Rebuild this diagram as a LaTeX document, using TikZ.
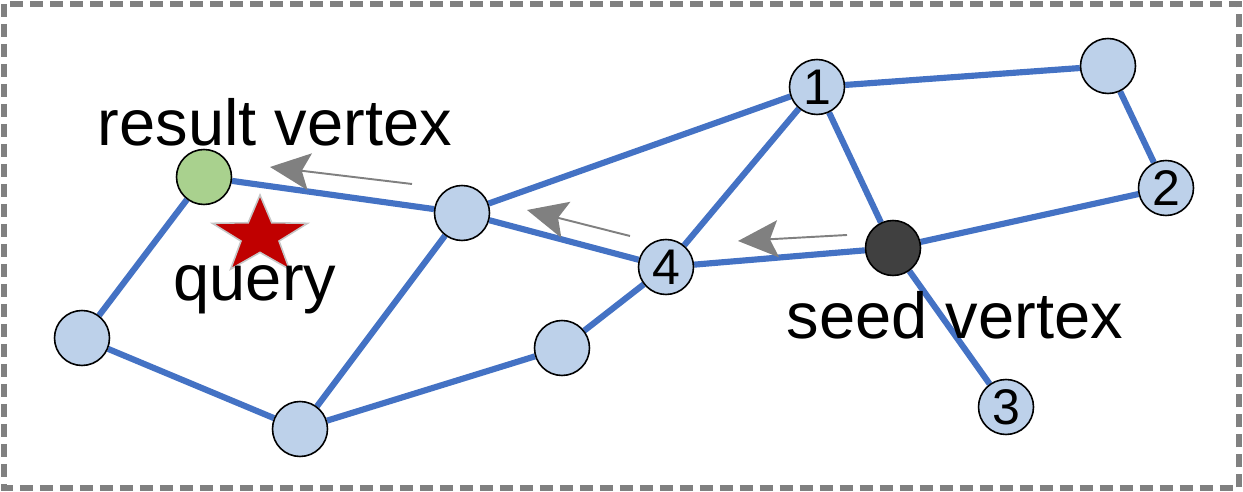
\documentclass[tikz,border=0pt]{standalone}
\usepackage{fontspec}
\setmainfont{Liberation Sans}
\usetikzlibrary{arrows.meta,shapes.geometric,backgrounds}
\definecolor{edgeblue}{HTML}{4472C4}
\definecolor{vblue}{HTML}{BDD1EA}
\definecolor{vgreen}{HTML}{A9D18E}
\definecolor{vdark}{HTML}{404040}
\definecolor{qred}{HTML}{C00000}
\definecolor{fgray}{HTML}{808080}

\begin{document}
\begin{tikzpicture}[x=0.02cm, y=-0.02cm,
  vtx/.style={circle, draw=black, line width=0.9pt, fill=vblue, minimum size=1.1cm, inner sep=0pt, font=\fontsize{28.5}{30}\selectfont},
  edge/.style={edgeblue, line width=3.5pt},
  walk/.style={fgray, line width=1.1pt, -{Stealth[length=0.8cm, width=0.74cm, inset=0.16cm]}},
  lbl/.style={font=\fontsize{37}{40}\selectfont, inner sep=0pt}]

\useasboundingbox (0,0) rectangle (1243,492);
% frame
\draw[fgray, line width=3pt, dash pattern=on 0.26cm off 0.14cm] (4,4) rectangle (1239,488);

% vertices
\node[vtx] (V1) at (817,87) {1};
\node[vtx] (VTR) at (1108,66) {};
\node[vtx] (V2) at (1166,188) {2};
\node[vtx, fill=vdark] (Seed) at (893,248) {};
\node[vtx] (V3) at (1006,407) {3};
\node[vtx] (V4) at (666,267) {4};
\node[vtx] (VMid) at (462,213) {};
\node[vtx, fill=vgreen] (Res) at (204,177) {};
\node[vtx] (VLeft) at (82,338) {};
\node[vtx] (VBot) at (300,429) {};
\node[vtx] (VLow) at (562,348) {};

% edges
\begin{scope}[on background layer]
\draw[edge] (Res) -- (VMid);
\draw[edge] (Res) -- (VLeft);
\draw[edge] (VLeft) -- (VBot);
\draw[edge] (VBot) -- (VMid);
\draw[edge] (VBot) -- (VLow);
\draw[edge] (VLow) -- (V4);
\draw[edge] (VMid) -- (V1);
\draw[edge] (VMid) -- (V4);
\draw[edge] (V4) -- (V1);
\draw[edge] (V4) -- (Seed);
\draw[edge] (V1) -- (Seed);
\draw[edge] (V1) -- (VTR);
\draw[edge] (VTR) -- (V2);
\draw[edge] (V2) -- (Seed);
\draw[edge] (Seed) -- (V3);
\end{scope}

% search steps
\coordinate (A1s) at (412,184); \coordinate (A1e) at (270,167);
\coordinate (A2s) at (630,236); \coordinate (A2e) at (527,210);
\coordinate (A3s) at (847,235); \coordinate (A3e) at (738,241);
\draw[walk] (A1s) -- (A1e);
\draw[walk] (A2s) -- (A2e);
\draw[walk] (A3s) -- (A3e);

% query (star is a bit flattened)
\begin{scope}[shift={(260,236)}, yscale=0.82]
\node[star, star points=5, star point ratio=2.5, minimum size=2cm, inner sep=0pt, fill=qred, draw=gray!45, line width=0.9pt, transform shape] (Q) at (0,0) {};
\end{scope}

% labels
\node[lbl] (LRes) at (275,122) {result vertex};
\node[lbl] (LQ) at (255,290) {query};
\node[lbl] (LSeed) at (955,315) {seed vertex};

\end{tikzpicture}
\end{document}
